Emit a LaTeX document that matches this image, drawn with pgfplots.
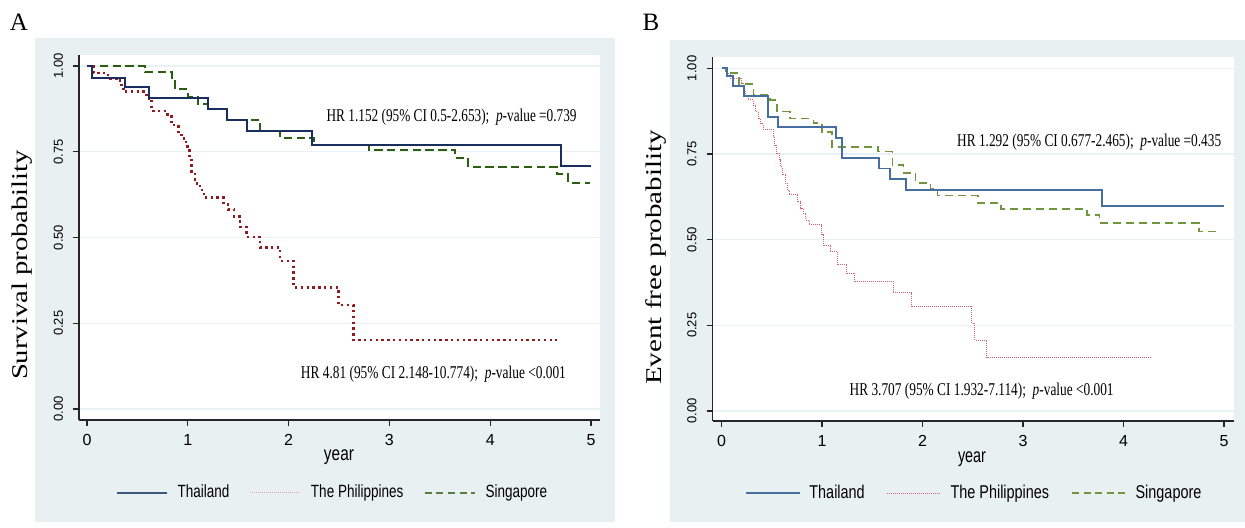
\documentclass[border=0pt]{standalone}
\usepackage{pgfplots}
\pgfplotsset{compat=1.18}
\usepackage{pgfplotstable}
\usepackage{graphicx}
\usepackage{fontspec}
\setmainfont{Liberation Serif}
\setsansfont{Liberation Sans}

\definecolor{bgc}{RGB}{232,240,242}
\definecolor{gridc}{RGB}{232,241,244}
\definecolor{thaiA}{RGB}{26,46,94}
\definecolor{philA}{RGB}{144,26,30}
\definecolor{singA}{RGB}{44,94,16}
\definecolor{thaiB}{RGB}{70,110,160}
\definecolor{philB}{RGB}{212,100,110}
\definecolor{singB}{RGB}{112,150,60}
\definecolor{philL}{RGB}{228,160,172}

\pgfplotstableread{
x y
0 1
0.053 0.964
0.377 0.940
0.615 0.906
1.197 0.875
1.386 0.843
1.590 0.810
2.229 0.771
4.706 0.707
5.0 0.707
}\thaiAt

\pgfplotstableread{
x y
0 1
0.063 0.979
0.21 0.964
0.327 0.945
0.36 0.925
0.59 0.906
0.64 0.869
0.797 0.852
0.84 0.828
0.906 0.808
0.939 0.789
0.982 0.765
1.015 0.726
1.039 0.692
1.071 0.658
1.121 0.638
1.161 0.616
1.352 0.600
1.40 0.582
1.458 0.561
1.518 0.531
1.584 0.502
1.716 0.471
1.915 0.432
2.047 0.355
2.493 0.303
2.642 0.201
4.66 0.201
}\philAt

\pgfplotstableread{
x y
0 1
0.575 0.982
0.84 0.961
0.873 0.932
1.005 0.910
1.104 0.890
1.197 0.875
1.386 0.843
1.716 0.810
1.915 0.790
2.25 0.770
2.80 0.755
3.651 0.732
3.783 0.706
4.66 0.684
4.775 0.660
4.99 0.660
}\singAt

\pgfplotstableread{
x y
0 1
0.052 0.978
0.111 0.949
0.227 0.919
0.466 0.859
0.565 0.830
1.139 0.796
1.196 0.738
1.570 0.708
1.677 0.677
1.836 0.645
3.783 0.598
5.0 0.598
}\thaiBt

\pgfplotstableread{
x y
0 1
0.05 0.985
0.085 0.971
0.20 0.957
0.217 0.937
0.234 0.917
0.267 0.908
0.317 0.893
0.34 0.874
0.366 0.854
0.39 0.838
0.416 0.823
0.515 0.800
0.532 0.776
0.549 0.752
0.572 0.733
0.589 0.713
0.605 0.689
0.632 0.665
0.655 0.645
0.672 0.631
0.754 0.611
0.788 0.592
0.814 0.577
0.838 0.557
0.871 0.543
0.997 0.514
1.013 0.482
1.08 0.465
1.156 0.428
1.246 0.402
1.328 0.379
1.71 0.345
1.893 0.306
2.49 0.256
2.522 0.207
2.639 0.156
4.28 0.156
}\philBt

\pgfplotstableread{
x y
0 1
0.045 0.987
0.177 0.954
0.317 0.922
0.483 0.908
0.549 0.874
0.682 0.854
0.914 0.840
0.997 0.815
1.096 0.771
1.56 0.757
1.70 0.718
1.81 0.695
1.93 0.666
2.08 0.649
2.15 0.629
2.55 0.608
2.78 0.590
3.64 0.572
3.76 0.549
4.75 0.524
4.97 0.524
}\singBt

\pgfplotsset{
  kmaxis/.style={
    scale only axis,
    axis x line*=bottom, axis y line*=left,
    axis line style={black!85, line width=0.65pt},
    axis background/.style={fill=white},
    xtick={0,1,2,3,4,5}, xticklabels={0,1,2,3,4,5},
    ytick={0,0.25,0.5,0.75,1}, yticklabels={0.00,0.25,0.50,0.75,1.00},
    tick align=outside, major tick length=3pt,
    tick style={black!85, line width=0.65pt},
    xticklabel style={font=\sffamily\fontsize{8}{9}\selectfont, inner sep=0pt, anchor=north},
    yticklabel style={font=\sffamily\fontsize{6.5}{7}\selectfont, inner sep=0pt, rotate=90, anchor=south},
    xticklabel shift=4.2pt, yticklabel shift=4.8pt,
    ymajorgrids, major grid style={gridc, line width=0.6pt},
    legend cell align=left,
  },
}

\begin{document}
\begin{tikzpicture}
\fill[bgc] (17.5pt,3pt) rectangle (307.5pt,245pt);
\fill[bgc] (335pt,3pt) rectangle (622.5pt,244.15pt);
\node[inner sep=0pt, font=\fontsize{12.5}{13}\selectfont] at (9.4pt,252.8pt) {A};
\node[inner sep=0pt, font=\fontsize{12.5}{13}\selectfont] at (325.45pt,252.65pt) {B};

% Panel A
\begin{axis}[kmaxis,
  at={(39.5pt,54pt)}, anchor=south west,
  width=260.5pt, height=182.5pt,
  xmin=-0.0794, xmax=5.089, ymin=-0.0321, ymax=1.0321,
  xlabel={\resizebox{15pt}{\height}{year}},
  ylabel={\resizebox{115pt}{\height}{Survival probability}},
  every axis x label/.style={at={(axis description cs:0.499,-0.101)}, anchor=center, inner sep=0pt, font=\sffamily\fontsize{10}{11}\selectfont},
  every axis y label/.style={at={(axis description cs:-0.1085,0.4247)}, rotate=90, anchor=center, inner sep=0pt, font=\fontsize{11.25}{12}\selectfont},
  legend image code/.code={\draw[#1] (0pt,0pt) -- (25pt,0pt);},
  legend style={at={(axis description cs:0.071,-0.2)}, anchor=west, draw=none, fill=none,
    inner sep=0pt, outer sep=0pt, legend columns=-1,
    font=\sffamily\fontsize{8.85}{10}\selectfont, nodes={inner sep=0pt},
    /tikz/every odd column/.append style={column sep=5pt},
    /tikz/every even column/.append style={column sep=10.3pt}},
]
\addplot[const plot, color=singA, line width=1.1pt, dash pattern=on 4.2pt off 2.2pt, forget plot] table {\singAt};
\addplot[const plot, color=philA, line width=1.3pt, dash pattern=on 1.2pt off 1.7pt, forget plot] table {\philAt};
\addplot[const plot, color=thaiA, line width=1pt, forget plot] table {\thaiAt};
\addlegendimage{color=thaiB!80!black, line width=0.8pt}
\addlegendimage{color=philL, line width=0.5pt, dash pattern=on 0.5pt off 0.5pt}
\addlegendimage{color=singA!80, line width=0.8pt, dash pattern=on 3.5pt off 2.3pt}
\legend{\scalebox{0.763}[1]{Thailand}, \scalebox{0.763}[1]{The Philippines}, \scalebox{0.763}[1]{Singapore}}
\node[anchor=base west, inner sep=0pt, font=\fontsize{9}{10}\selectfont] at (axis cs:2.373,0.8376)
  {\resizebox{125pt}{\height}{HR 1.152 (95\% CI 0.5-2.653);\ \ \textit{p}-value =0.739}};
\node[anchor=base west, inner sep=0pt, font=\fontsize{9}{10}\selectfont] at (axis cs:2.118,0.0883)
  {\resizebox{132.5pt}{\height}{HR 4.81 (95\% CI 2.148-10.774);\ \ \textit{p}-value <0.001}};
\end{axis}

% Panel B
\begin{axis}[kmaxis,
  at={(356.25pt,53.5pt)}, anchor=south west,
  width=260.75pt, height=182.2pt,
  xmin=-0.0896, xmax=5.0995, ymin=-0.0292, ymax=1.0344,
  xlabel={\resizebox{14pt}{\height}{year}},
  ylabel={\resizebox{127.5pt}{\height}{Event free probability}},
  every axis x label/.style={at={(axis description cs:0.4976,-0.106)}, anchor=center, inner sep=0pt, font=\sffamily\fontsize{10}{11}\selectfont},
  every axis y label/.style={at={(axis description cs:-0.1085,0.4487)}, rotate=90, anchor=center, inner sep=0pt, font=\fontsize{11.25}{12}\selectfont},
  legend image code/.code={\draw[#1] (0pt,0pt) -- (26.9pt,0pt);},
  legend style={at={(axis description cs:0.0623,-0.1976)}, anchor=west, draw=none, fill=none,
    inner sep=0pt, outer sep=0pt, legend columns=-1,
    font=\sffamily\fontsize{9.25}{10}\selectfont, nodes={inner sep=0pt},
    /tikz/every odd column/.append style={column sep=4.5pt},
    /tikz/every even column/.append style={column sep=11pt}},
]
\addplot[const plot, color=singB, line width=0.85pt, dash pattern=on 4pt off 2.5pt, forget plot] table {\singBt};
\addplot[const plot, color=philB, line width=0.5pt, dash pattern=on 0.5pt off 0.5pt, forget plot] table {\philBt};
\addplot[const plot, color=thaiB, line width=0.9pt, forget plot] table {\thaiBt};
\addlegendimage{color=thaiB, line width=0.8pt}
\addlegendimage{color=philB, line width=0.5pt, dash pattern=on 0.5pt off 0.5pt}
\addlegendimage{color=singB, line width=0.8pt, dash pattern=on 3.5pt off 2.3pt}
\legend{\scalebox{0.78}[1]{Thailand}, \scalebox{0.78}[1]{The Philippines}, \scalebox{0.78}[1]{Singapore}}
\node[anchor=base west, inner sep=0pt, font=\fontsize{9}{10}\selectfont] at (axis cs:2.341,0.772)
  {\resizebox{132pt}{\height}{HR 1.292 (95\% CI 0.677-2.465);\ \ \textit{p}-value =0.435}};
\node[anchor=base west, inner sep=0pt, font=\fontsize{9}{10}\selectfont] at (axis cs:1.271,0.045)
  {\resizebox{132pt}{\height}{HR 3.707 (95\% CI 1.932-7.114);\ \ \textit{p}-value <0.001}};
\end{axis}

\pgfresetboundingbox
\path[use as bounding box] (0pt,0pt) rectangle (622.5pt,264pt);
\end{tikzpicture}
\end{document}
